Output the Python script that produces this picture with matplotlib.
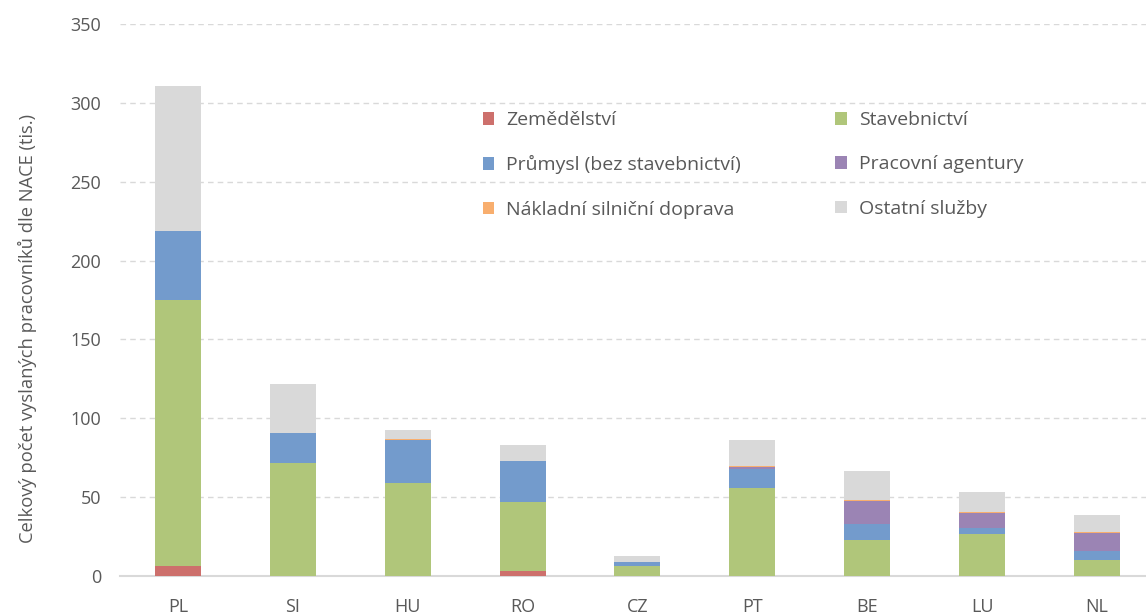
import matplotlib.pyplot as plt
import numpy as np

countries = ["PL", "SI", "HU", "RO", "CZ", "PT", "BE", "LU", "NL"]

zemedelstvi = [6.3, 0, 0, 3.2, 0, 0, 0, 0, 0]
stavebnictvi = [168.7, 71.7, 59.0, 43.8, 6.5, 55.8, 22.8, 26.4, 10.1]
prumysl = [44.0, 19.0, 27.2, 26.0, 2.4, 11.8, 10.4, 4.0, 5.8]
agentury = [0, 0, 0, 0, 0, 1.4, 14.6, 9.7, 11.6]
doprava = [0, 0, 0.8, 0, 0, 0.7, 0.6, 0.7, 0.4]
ostatni = [91.7, 31.0, 5.6, 10.0, 3.6, 16.7, 18.4, 12.7, 11.0]

series = [
    ("Zemědělství", zemedelstvi, "#CD706C"),
    ("Stavebnictví", stavebnictvi, "#B0C67A"),
    ("Průmysl (bez stavebnictví)", prumysl, "#739BCC"),
    ("Pracovní agentury", agentury, "#9B84B4"),
    ("Nákladní silniční doprava", doprava, "#F8AE6E"),
    ("Ostatní služby", ostatni, "#D9D9D9"),
]

plt.rcParams["font.family"] = ["Open Sans", "DejaVu Sans"]

fig = plt.figure(figsize=(11.46, 6.15), dpi=100)
ax = fig.add_axes([0.1051, 0.0634, 0.9023, 0.8976])

x = np.arange(len(countries))
bottom = np.zeros(len(countries))
handles = {}
for name, vals, col in series:
    vals = np.array(vals)
    b = ax.bar(x, vals, width=0.4, bottom=bottom, color=col, label=name, zorder=3)
    handles[name] = b
    bottom += vals

ax.set_xlim(-0.5, len(countries) - 0.5)
ax.set_ylim(0, 350)
ax.set_yticks(range(0, 351, 50))
ax.set_xticks(x)
ax.set_xticklabels(countries)
ax.tick_params(length=0, labelsize=13, labelcolor="#595959")
ax.tick_params(axis="y", pad=14)
ax.tick_params(axis="x", pad=16)
ax.grid(axis="y", color="#D9D9D9", linestyle=(0, (4, 3)), linewidth=1, zorder=0)
for s in ["top", "right", "left"]:
    ax.spines[s].set_visible(False)
ax.spines["bottom"].set_color("#D9D9D9")
ax.spines["bottom"].set_linewidth(1.5)

ax.set_ylabel("Celkový počet vyslaných pracovníků dle NACE (tis.)", fontsize=13.2,
              color="#595959")
ax.yaxis.set_label_coords(-0.081, 0.449)

order = ["Zemědělství", "Průmysl (bez stavebnictví)", "Nákladní silniční doprava",
         "Stavebnictví", "Pracovní agentury", "Ostatní služby"]
leg = ax.legend([handles[n] for n in order], order, ncol=2, frameon=False,
                loc="upper left", bbox_to_anchor=(0.3334, 0.8737),
                fontsize=14, labelcolor="#595959", handlelength=0.6, handleheight=0.6,
                handletextpad=0.6, columnspacing=4.87, labelspacing=1.35)

plt.savefig("out.png", dpi=100)
